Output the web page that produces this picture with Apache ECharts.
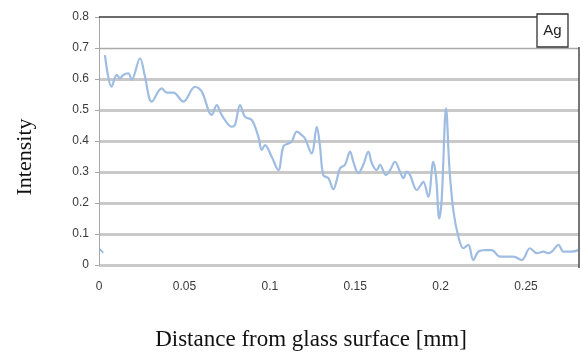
<!DOCTYPE html>
<html><head><meta charset="utf-8">
<script src="https://cdn.jsdelivr.net/npm/echarts@6/dist/echarts.min.js"></script>
<style>html,body{margin:0;padding:0;background:#fff}#c{width:583px;height:353px}</style>
</head><body><div id="c"></div>
<script>
// Distance from glass surface [mm]
var distance = [0.0035,0.0074,0.0104,0.0123,0.0142,0.0172,0.0191,0.0240,0.0269,0.0309,0.0367,0.0396,0.0435,0.0494,0.0562,0.0601,0.0660,0.0689,0.0718,0.0777,0.0796,0.0826,0.0855,0.0894,0.0933,0.0953,0.0972,0.1011,0.1050,0.1079,0.1108,0.1128,0.1158,0.1187,0.1206,0.1245,0.1275,0.1294,0.1313,0.1343,0.1372,0.1392,0.1411,0.1440,0.1470,0.1489,0.1518,0.1547,0.1577,0.1597,0.1626,0.1645,0.1680,0.1704,0.1733,0.1762,0.1782,0.1802,0.1821,0.1860,0.1890,0.1899,0.1928,0.1957,0.1973,0.1992,0.2006,0.2032,0.2051,0.2074,0.2104,0.2133,0.2162,0.2191,0.2221,0.2260,0.2299,0.2348,0.2426,0.2475,0.2523,0.2563,0.2602,0.2631,0.2651,0.2690,0.2719,0.2768,0.2806];
// Ag intensity
var intensity = [0.677,0.575,0.613,0.602,0.613,0.618,0.597,0.667,0.608,0.527,0.570,0.556,0.556,0.527,0.575,0.560,0.484,0.516,0.484,0.446,0.452,0.516,0.478,0.468,0.414,0.371,0.387,0.349,0.306,0.382,0.392,0.398,0.430,0.419,0.408,0.360,0.446,0.382,0.290,0.280,0.244,0.274,0.312,0.323,0.366,0.333,0.296,0.323,0.366,0.328,0.306,0.323,0.290,0.306,0.333,0.301,0.280,0.301,0.290,0.242,0.263,0.269,0.220,0.333,0.285,0.150,0.210,0.505,0.317,0.177,0.091,0.054,0.065,0.016,0.043,0.048,0.048,0.027,0.027,0.016,0.054,0.038,0.043,0.038,0.043,0.065,0.043,0.043,0.048];
// small stray fragment at left edge
var stubDistance = [0.0003, 0.0025];
var stubIntensity = [0.052, 0.040];
var xTicks = [0, 0.05, 0.1, 0.15, 0.2, 0.25];
var yTicks = [0, 0.1, 0.2, 0.3, 0.4, 0.5, 0.6, 0.7, 0.8];
var seriesName = 'Ag';
var xTitle = 'Distance from glass surface [mm]';
var yTitle = 'Intensity';

var mainData = distance.map(function(d,i){return [d,intensity[i]];});
var stubData = stubDistance.map(function(d,i){return [d,stubIntensity[i]];});
var g = '#c9c9c9';
var chart = echarts.init(document.getElementById('c'));
chart.setOption({
  animation:false,
  backgroundColor:'#fff',
  grid:{left:99,right:4,top:17,bottom:88,containLabel:false},
  xAxis:{type:'value',min:0,max:0.281,interval:0.05,
    axisLine:{show:false},axisTick:{show:false},splitLine:{show:false},
    axisLabel:{color:'#3a3a3a',fontSize:12,fontFamily:'Liberation Sans',margin:16,showMaxLabel:false,
      formatter:function(v){return xTicks.indexOf(Math.round(v*100)/100)>=0?String(Math.round(v*100)/100):'';}}},
  yAxis:{type:'value',min:0,max:0.8,interval:0.1,
    axisLine:{show:true,lineStyle:{color:'#a6a6a6',width:1}},
    axisTick:{show:true,length:4,lineStyle:{color:'#a6a6a6'}},
    axisLabel:{color:'#3a3a3a',fontSize:12,fontFamily:'Liberation Sans',margin:10,
      formatter:function(v){var r=Math.round(v*10)/10;return yTicks.indexOf(r)>=0?String(r):'';}},
    splitLine:{show:true,lineStyle:{color:[g,g,g,g,g,g,g,'rgba(0,0,0,0)','rgba(0,0,0,0)'],width:3}}},
  series:[
    {type:'line',name:seriesName,data:mainData,smooth:0.35,showSymbol:false,symbol:'none',
     lineStyle:{color:'#9fbde2',width:2.2},z:3,
     markLine:{silent:true,symbol:'none',label:{show:false},
       data:[{yAxis:0.7,lineStyle:{color:'#a9a9a9',width:1.3,type:'solid'}},
             {yAxis:0.8,lineStyle:{color:'#3a3a3a',width:1.6,type:'solid'}}]}},
    {type:'line',data:stubData,showSymbol:false,symbol:'none',lineStyle:{color:'#8fb0da',width:1.5},z:3}
  ],
  graphic:[
    {type:'rect',shape:{x:568,y:8,width:15,height:38},style:{fill:'#fff'},z:10},
    {type:'line',shape:{x1:579,y1:47,x2:579,y2:268},style:{stroke:'#4a4a4a',lineWidth:1.5},z:10},
    {type:'rect',shape:{x:537,y:14,width:31,height:33},style:{fill:'#fff',stroke:'#333',lineWidth:1.3},z:11},
    {type:'text',x:552.5,y:30.5,style:{text:seriesName,fill:'#222',font:'15px "Liberation Sans"',align:'center',verticalAlign:'middle'},z:12},
    {type:'text',x:311,y:340,style:{text:xTitle,fill:'#111',font:'23px "Liberation Serif"',align:'center',verticalAlign:'middle'},z:12},
    {type:'text',x:25,y:157,rotation:Math.PI/2,style:{text:yTitle,fill:'#111',font:'22px "Liberation Serif"',align:'center',verticalAlign:'middle'},z:12}
  ]
});
</script></body></html>
